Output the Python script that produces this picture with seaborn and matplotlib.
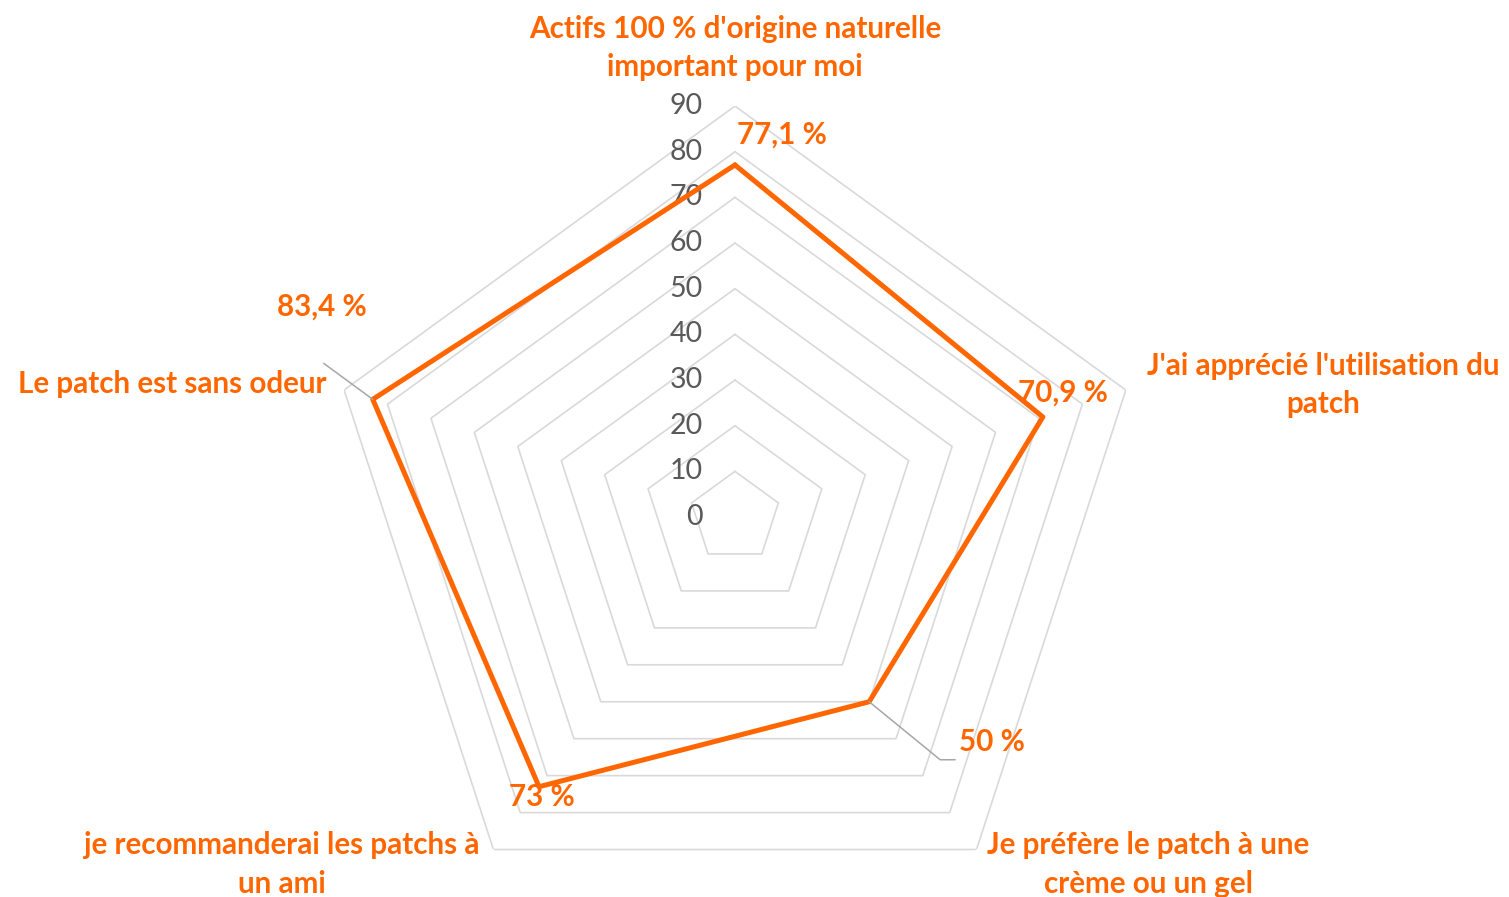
import numpy as np
import pandas as pd
import matplotlib
matplotlib.use("Agg")
import matplotlib.pyplot as plt
import seaborn as sns
from matplotlib.lines import Line2D
from matplotlib.transforms import IdentityTransform

# chart data (clockwise from top)
categories = [
    "Actifs 100 % d'origine naturelle\nimportant pour moi",
    "J'ai apprécié l'utilisation du\npatch",
    "Je préfère le patch à une\ncrème ou un gel",
    "je recommanderai les patchs à\nun ami",
    "Le patch est sans odeur",
]
values = [77.1, 70.9, 50, 73, 83.4]
value_labels = ["77,1 %", "70,9 %", "50 %", "73 %", "83,4 %"]
ticks = [0, 10, 20, 30, 40, 50, 60, 70, 80, 90]

ORANGE = "#FF6600"
GRID = "#D9D9D9"
TICK = "#595959"

sns.set_style("white")
plt.rcParams["font.family"] = ["Lato", "DejaVu Sans"]

fig = plt.figure(figsize=(15.09, 8.97), dpi=100)
ax = fig.add_axes([0.2147, -0.0346, 0.5447, 0.9164], projection="polar")
ax.set_theta_zero_location("N")
ax.set_theta_direction(-1)

n = len(categories)
theta = np.linspace(0, 2 * np.pi, n, endpoint=False)
theta_closed = np.append(theta, 2 * np.pi)

# pentagon gridlines
for t in ticks[1:]:
    ax.plot(theta_closed, [t] * (n + 1), color=GRID, lw=1.2, zorder=1)

# tick labels on the top axis
for t in ticks:
    ax.annotate(str(t), xy=(0, t), xytext=(-32, 0), textcoords="offset pixels",
                ha="right", va="center", color=TICK, fontsize=20.5)

# data series
df = pd.DataFrame({"theta": theta_closed, "value": values + values[:1]})
sns.lineplot(data=df, x="theta", y="value", sort=False, estimator=None,
             color=ORANGE, lw=3.6, ax=ax, zorder=3)
ax.set_ylim(0, 90)
ax.set_axis_off()

# category labels
cat_pos = [
    (0, (0, 58), "center"),
    (1, (197, 5), "center"),
    (2, (172, -15), "center"),
    (3, (-212, -15), "center"),
    (4, (-18, 6), "right"),
]
for i, (dx, dy), ha in cat_pos:
    ax.annotate(categories[i], xy=(theta[i], 90), xytext=(dx, dy),
                textcoords="offset pixels", ha=ha, va="center", color=ORANGE,
                fontsize=21.3, fontweight="bold", linespacing=1.45)

# value labels
val_off = [(47, 30), (20, 24), (123, -40), (3, -10), (-51, 93)]
for i, (dx, dy) in enumerate(val_off):
    ax.annotate(value_labels[i], xy=(theta[i], values[i]), xytext=(dx, dy),
                textcoords="offset pixels", ha="center", va="center",
                color=ORANGE, fontsize=21.3, fontweight="bold", zorder=4)

# leader lines
fig.canvas.draw()
p4 = ax.transData.transform((theta[4], values[4]))
fig.add_artist(Line2D([p4[0] - 49, p4[0]], [p4[1] + 36, p4[1]],
                      transform=IdentityTransform(), color="#A6A6A6", lw=1.1))
p2 = ax.transData.transform((theta[2], values[2]))
fig.add_artist(Line2D([p2[0], p2[0] + 71, p2[0] + 86],
                      [p2[1], p2[1] - 58, p2[1] - 58],
                      transform=IdentityTransform(), color="#A6A6A6", lw=1.1))

fig.savefig("out.png", dpi=100, facecolor="white")
